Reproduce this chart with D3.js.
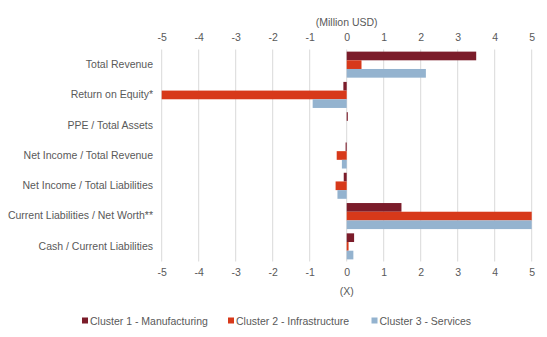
<!DOCTYPE html>
<html><head><meta charset="utf-8">
<script src="https://cdn.jsdelivr.net/npm/d3@7"></script>
<style>body{margin:0;background:#fff}svg{display:block}text{font-family:"Liberation Sans",Arial,sans-serif;fill:#595959}</style>
</head><body><svg id="c" width="547" height="337"></svg>
<script>
const categories = ["Total Revenue","Return on Equity*","PPE / Total Assets","Net Income / Total Revenue","Net Income / Total Liabilities","Current Liabilities / Net Worth**","Cash / Current Liabilities"];
const seriesNames = ["Cluster 1 - Manufacturing","Cluster 2 - Infrastructure","Cluster 3 - Services"];
const manufacturing = [3.5, -0.09, 0.03, -0.03, -0.08, 1.48, 0.2];
const infrastructure = [0.4, -5, 0, -0.27, -0.3, 5, 0.05];
const services = [2.14, -0.92, 0, -0.13, -0.25, 5, 0.18];
const tickValues = [-5,-4,-3,-2,-1,0,1,2,3,4,5];
const colors = ["#7b1c2a","#d7391a","#94b3cf"];

(function(){
const series = [manufacturing, infrastructure, services];
const svg = d3.select("#c");
const x = d3.scaleLinear().domain([-5,5]).range([161.7,531.7]);
const y = d3.scaleBand().domain(categories).range([49.5,261.5]).paddingInner(0.14).paddingOuter(0.07);
const y1 = d3.scaleBand().domain(d3.range(3)).range([0,y.bandwidth()]);

svg.append("g").selectAll("line").data(tickValues).join("line")
  .attr("x1",d=>x(d)).attr("x2",d=>x(d)).attr("y1",49.5).attr("y2",261.5)
  .attr("stroke","#d9d9d9").attr("stroke-width",1);

const g = svg.append("g");
categories.forEach((c,i)=>{
  series.forEach((s,j)=>{
    const v = s[i];
    g.append("rect")
      .attr("x", x(Math.min(0,v)))
      .attr("width", Math.abs(x(v)-x(0)))
      .attr("y", y(c)+y1(j))
      .attr("height", y1.bandwidth())
      .attr("fill", colors[j]);
  });
});

const fmt = d => String(d);
const axTop = svg.append("g").attr("transform","translate(0,41)")
  .call(d3.axisTop(x).tickValues(tickValues).tickSize(0).tickPadding(0).tickFormat(fmt));
const axBot = svg.append("g").attr("transform","translate(0,269)")
  .call(d3.axisBottom(x).tickValues(tickValues).tickSize(0).tickPadding(0).tickFormat(fmt));
[axTop,axBot].forEach(a=>{a.select(".domain").remove();
  a.selectAll("text").attr("font-size","10.5px").attr("fill","#595959").style("font-family","Liberation Sans, Arial, sans-serif");});

const yAx = svg.append("g").attr("transform","translate(153,0)")
  .call(d3.axisLeft(y).tickSize(0).tickPadding(0));
yAx.select(".domain").remove();
yAx.selectAll("text").attr("font-size","10.5px").attr("fill","#595959").style("font-family","Liberation Sans, Arial, sans-serif");

svg.append("text").attr("x",x(0)).attr("y",26).attr("text-anchor","middle").attr("font-size","10.5px").text("(Million USD)");
svg.append("text").attr("x",x(0)).attr("y",295).attr("text-anchor","middle").attr("font-size","10.5px").text("(X)");

const legX = [82,228,371.5];
seriesNames.forEach((n,j)=>{
  svg.append("rect").attr("x",legX[j]).attr("y",317.5).attr("width",6).attr("height",6).attr("fill",colors[j]);
  svg.append("text").attr("x",legX[j]+8).attr("y",324.5).attr("font-size","10.5px").text(n);
});
})();
</script></body></html>
